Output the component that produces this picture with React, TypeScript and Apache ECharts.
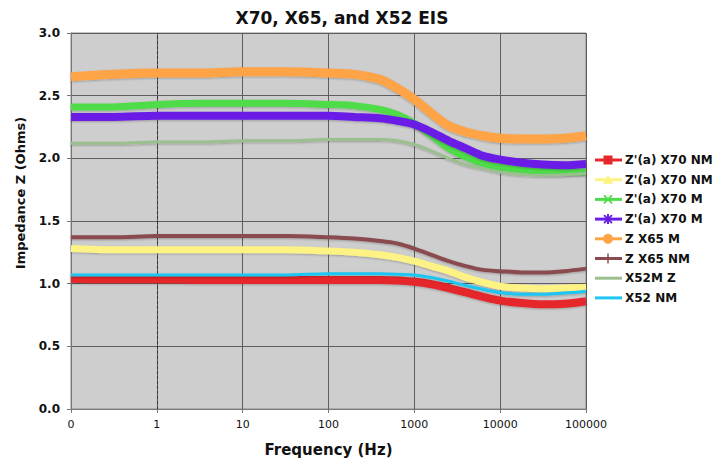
import React, { useEffect, useRef } from "react";
import * as echarts from "echarts";

// x positions in decades on the axis (0 → "0", 1 → "1 Hz", 2 → "10 Hz", ... 6 → "100000 Hz")
const decadePos = [0, 0.5, 1, 1.5, 2, 2.5, 3, 3.3, 3.6, 3.8, 4, 4.2, 4.4, 4.6, 4.8, 5, 5.25, 5.5, 5.75, 6];
const xTickLabels = ["0", "1", "10", "100", "1000", "10000", "100000"];
const yTicks = [0, 0.5, 1, 1.5, 2, 2.5, 3];

const seriesNames = ["Z'(a) X70 NM", "Z'(a) X70 NM", "Z'(a) X70 M", "Z'(a) X70 M", "Z X65 M", "Z X65 NM", "X52M Z", "X52 NM"];
const seriesColors = ["#e5262b", "#fdf384", "#4fdc4a", "#6a1fe6", "#ffa347", "#8a4b50", "#9cbf90", "#1ec6f2"];
const seriesWidths = [8, 7, 7, 8, 9, 4, 3, 3];
const legendMarks = ["rect", "triangle", "x", "asterisk", "circle", "plus", "none", "none"];

const zaX70NM_1 = [1.04, 1.035, 1.035, 1.03, 1.03, 1.03, 1.03, 1.03, 1.03, 1.025, 1.015, 0.995, 0.965, 0.93, 0.895, 0.865, 0.845, 0.835, 0.84, 0.86];
const zaX70NM_2 = [1.28, 1.27, 1.27, 1.27, 1.27, 1.27, 1.26, 1.25, 1.23, 1.21, 1.18, 1.14, 1.1, 1.05, 1.01, 0.98, 0.965, 0.96, 0.965, 0.97];
const zaX70M_1 = [2.41, 2.41, 2.43, 2.44, 2.44, 2.44, 2.43, 2.42, 2.39, 2.35, 2.28, 2.18, 2.08, 2.01, 1.96, 1.93, 1.91, 1.895, 1.89, 1.89];
const zaX70M_2 = [2.33, 2.33, 2.34, 2.34, 2.34, 2.34, 2.34, 2.33, 2.32, 2.3, 2.27, 2.21, 2.14, 2.08, 2.02, 1.99, 1.965, 1.95, 1.945, 1.955];
const zX65M = [2.65, 2.67, 2.68, 2.68, 2.69, 2.69, 2.68, 2.67, 2.63, 2.56, 2.47, 2.36, 2.26, 2.21, 2.18, 2.16, 2.155, 2.155, 2.16, 2.18];
const zX65NM = [1.37, 1.37, 1.38, 1.38, 1.38, 1.38, 1.37, 1.36, 1.34, 1.32, 1.28, 1.23, 1.18, 1.14, 1.11, 1.1, 1.09, 1.09, 1.1, 1.12];
const x52MZ = [2.12, 2.12, 2.13, 2.13, 2.14, 2.14, 2.15, 2.15, 2.15, 2.14, 2.11, 2.06, 2.0, 1.95, 1.92, 1.89, 1.87, 1.865, 1.87, 1.88];
const x52NM = [1.07, 1.07, 1.07, 1.07, 1.07, 1.07, 1.08, 1.08, 1.08, 1.075, 1.07, 1.05, 1.02, 0.985, 0.955, 0.93, 0.915, 0.915, 0.925, 0.94];

const seriesValues = [zaX70NM_1, zaX70NM_2, zaX70M_1, zaX70M_2, zX65M, zX65NM, x52MZ, x52NM];

const FONT = '"DejaVu Sans", Verdana, sans-serif';

function legendGraphics() {
  const els: any[] = [];
  const x1 = 595, x2 = 622, cx = 608;
  seriesNames.forEach((name, i) => {
    const y = 160 + i * 19.7;
    const c = seriesColors[i];
    els.push({ type: "line", z: 100, shape: { x1, y1: y, x2, y2: y }, style: { stroke: c, lineWidth: 3 } });
    const m = legendMarks[i];
    if (m === "rect") {
      els.push({ type: "rect", z: 101, shape: { x: cx - 4.5, y: y - 4.5, width: 9, height: 9 }, style: { fill: c } });
    } else if (m === "triangle") {
      els.push({ type: "polygon", z: 101, shape: { points: [[cx, y - 5], [cx + 5.5, y + 4], [cx - 5.5, y + 4]] }, style: { fill: c } });
    } else if (m === "x" || m === "asterisk") {
      els.push({ type: "line", z: 101, shape: { x1: cx - 4, y1: y - 4, x2: cx + 4, y2: y + 4 }, style: { stroke: c, lineWidth: 2 } });
      els.push({ type: "line", z: 101, shape: { x1: cx - 4, y1: y + 4, x2: cx + 4, y2: y - 4 }, style: { stroke: c, lineWidth: 2 } });
      if (m === "asterisk") {
        els.push({ type: "line", z: 101, shape: { x1: cx, y1: y - 5, x2: cx, y2: y + 5 }, style: { stroke: c, lineWidth: 2 } });
      }
    } else if (m === "circle") {
      els.push({ type: "circle", z: 101, shape: { cx, cy: y, r: 5 }, style: { fill: c } });
    } else if (m === "plus") {
      els.push({ type: "line", z: 101, shape: { x1: cx, y1: y - 5, x2: cx, y2: y + 5 }, style: { stroke: c, lineWidth: 1.5 } });
    }
    els.push({
      type: "text",
      z: 101,
      x: 625,
      y,
      style: { text: name, font: `bold 12px ${FONT}`, fill: "#111", align: "left", verticalAlign: "middle" },
    });
  });
  return els;
}

export default function App() {
  const ref = useRef<HTMLDivElement>(null);
  useEffect(() => {
    const chart = echarts.init(ref.current!, null, { renderer: "svg" });
    chart.setOption({
      animation: false,
      backgroundColor: "#ffffff",
      title: {
        text: "X70, X65, and X52 EIS",
        left: 337,
        top: 4,
        textAlign: "center",
        textStyle: { fontFamily: FONT, fontWeight: "bold", fontSize: 17, color: "#111" },
      },
      grid: {
        left: 71,
        right: 135,
        top: 33,
        bottom: 52,
        show: true,
        backgroundColor: "#cecece",
        borderColor: "#8a8a8a",
        borderWidth: 1,
      },
      xAxis: {
        type: "value",
        min: 0,
        max: 6,
        interval: 1,
        name: "Frequency (Hz)",
        nameLocation: "middle",
        nameGap: 33,
        nameTextStyle: { fontFamily: FONT, fontWeight: "bold", fontSize: 15, color: "#111" },
        axisLine: { show: true, lineStyle: { color: "#777", width: 1 } },
        axisTick: { show: true, length: 4, lineStyle: { color: "#777" } },
        axisLabel: {
          margin: 10,
          fontFamily: FONT,
          fontSize: 11,
          color: "#111",
          formatter: (v: number) => xTickLabels[Math.round(v)] ?? "",
        },
        splitLine: { show: true, lineStyle: { color: "#5e5e5e", width: 1 } },
      },
      yAxis: {
        type: "value",
        min: yTicks[0],
        max: yTicks[yTicks.length - 1],
        interval: 0.5,
        axisLine: { show: true, lineStyle: { color: "#777", width: 1 } },
        axisTick: { show: true, length: 4, lineStyle: { color: "#777" } },
        axisLabel: {
          margin: 11,
          fontFamily: FONT,
          fontWeight: "bold",
          fontSize: 12,
          color: "#111",
          formatter: (v: number) => v.toFixed(1),
        },
        splitLine: { show: true, lineStyle: { color: "#5e5e5e", width: 1 } },
      },
      series: seriesNames.map((name, i) => ({
        name,
        type: "line",
        smooth: 0.3,
        showSymbol: false,
        symbol: "none",
        data: decadePos.map((x, k) => [x, seriesValues[i][k]]),
        lineStyle: {
          color: seriesColors[i],
          width: seriesWidths[i],
          shadowColor: "rgba(0,0,0,0.25)",
          shadowBlur: 2,
          shadowOffsetY: 1,
        },
        itemStyle: { color: seriesColors[i] },
        z: 3 + i,
        markLine:
          i === 0
            ? {
                silent: true,
                symbol: "none",
                label: { show: false },
                lineStyle: { color: "#333", type: [3, 2], width: 1 },
                data: [{ xAxis: 1 }],
                z: 2,
              }
            : undefined,
      })),
      graphic: [
        {
          type: "text",
          x: 20,
          y: 193,
          rotation: Math.PI / 2,
          style: {
            text: "Impedance Z (Ohms)",
            font: `bold 13px ${FONT}`,
            fill: "#111",
            align: "center",
            verticalAlign: "middle",
          },
        },
        ...legendGraphics(),
      ],
    });
    return () => chart.dispose();
  }, []);
  return <div ref={ref} style={{ position: "fixed", left: 0, top: 0, width: 721, height: 462 }} />;
}
